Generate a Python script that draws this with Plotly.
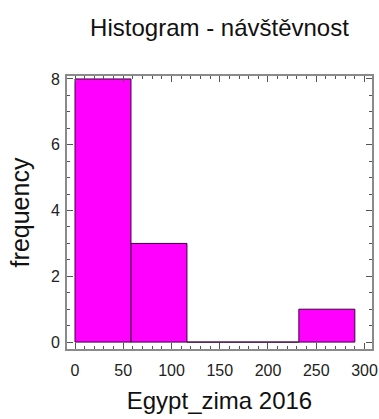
import plotly.graph_objects as go

# Histogram bins of winter 2016 Egypt visits and their counts
bin_edges = [0.0, 58.0, 116.0, 174.0, 232.0, 290.0]
counts = [8, 3, 0, 0, 1]

x_ticks = [0, 50, 100, 150, 200, 250, 300]
y_ticks = [0, 2, 4, 6, 8]

centers = [(a + b) / 2 for a, b in zip(bin_edges[:-1], bin_edges[1:])]
widths = [b - a for a, b in zip(bin_edges[:-1], bin_edges[1:])]

fig = go.Figure(
    go.Bar(
        x=centers,
        y=counts,
        width=widths,
        marker=dict(color="#FF00FF", line=dict(color="#3a003a", width=1)),
    )
)

font_family = "Liberation Sans, Arial, sans-serif"
frame = dict(
    showline=True,
    linecolor="#8a8a8a",
    linewidth=2,
    mirror="ticks",
    ticks="inside",
    ticklen=6,
    tickcolor="#555555",
    showgrid=False,
    zeroline=False,
    automargin=False,
    ticklabeloverflow="allow",
    tickfont=dict(family=font_family, size=16, color="#222222"),
)

fig.update_layout(
    width=379,
    height=419,
    autosize=False,
    margin=dict(l=67, r=7, t=76, b=70),
    paper_bgcolor="white",
    plot_bgcolor="white",
    showlegend=False,
    title=dict(
        text="Histogram - návštěvnost",
        x=0.5,
        xref="paper",
        y=0.935,
        yref="container",
        xanchor="center",
        yanchor="middle",
        font=dict(family=font_family, size=24, color="#111111"),
    ),
    xaxis=dict(
        frame,
        range=[-8.3, 307.8],
        tickvals=x_ticks,
        ticklabelstandoff=6,
        minor=dict(dtick=10, ticks="inside", ticklen=3, tickcolor="#555555"),
        title=dict(text="Egypt_zima 2016", standoff=14,
                   font=dict(family=font_family, size=24, color="#111111")),
    ),
    yaxis=dict(
        frame,
        range=[-0.21, 8.09],
        tickvals=y_ticks,
        ticklabelstandoff=2,
        minor=dict(dtick=0.5, ticks="inside", ticklen=3, tickcolor="#555555"),
        title=dict(text="frequency", standoff=14,
                   font=dict(family=font_family, size=25, color="#111111")),
    ),
)

fig.write_html("out.html")
